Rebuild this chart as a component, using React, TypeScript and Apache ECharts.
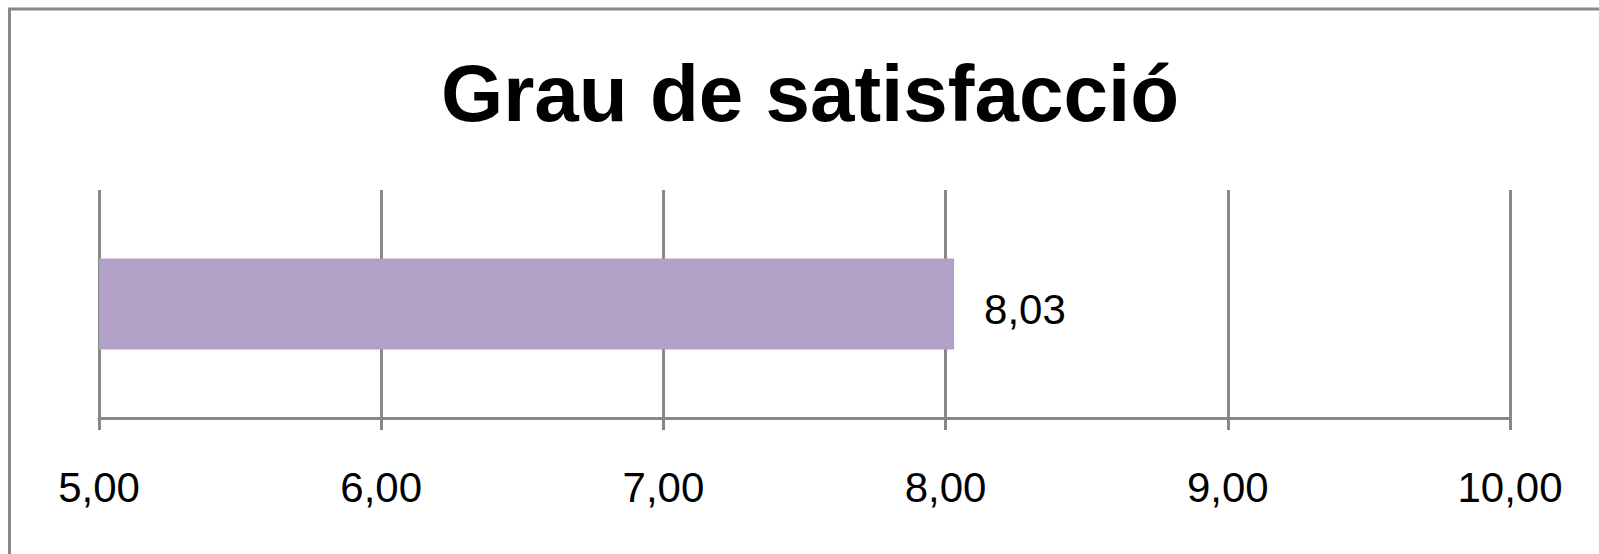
import React, { useEffect, useRef } from "react";
import * as echarts from "echarts";

const categories: string[] = ["Grau de satisfacció"];
const values: number[] = [8.03];
const titleText = "Grau de satisfacció";
const axisMin = 5;
const axisMax = 10;
const axisInterval = 1;

const fmt = (v: number) => v.toFixed(2).replace(".", ",");

export default function App() {
  const ref = useRef<HTMLDivElement>(null);
  useEffect(() => {
    if (!ref.current) return;
    const chart = echarts.init(ref.current, null, { renderer: "svg" });
    const font = '"Liberation Sans", Arial, sans-serif';
    chart.setOption({
      animation: false,
      backgroundColor: "#ffffff",
      title: {
        text: titleText,
        left: 810,
        top: 53,
        padding: 0,
        textAlign: "center",
        textStyle: { fontFamily: font, fontSize: 80, fontWeight: "bold", color: "#000000" },
      },
      graphic: [
        {
          type: "rect",
          silent: true,
          shape: { x: 9.5, y: 9, width: 3000, height: 3000 },
          style: { fill: "none", stroke: "#888888", lineWidth: 3 },
        },
      ],
      grid: { left: 99, right: 89, top: 190, bottom: 136, containLabel: false },
      xAxis: {
        type: "value",
        min: axisMin,
        max: axisMax,
        interval: axisInterval,
        axisLine: { show: true, lineStyle: { color: "#888888", width: 3 } },
        axisTick: { show: true, length: 12, inside: false, lineStyle: { color: "#888888", width: 3 } },
        splitLine: { show: true, lineStyle: { color: "#888888", width: 3 } },
        axisLabel: {
          formatter: (v: number) => fmt(v),
          fontFamily: font,
          fontSize: 42,
          color: "#000000",
          margin: 48,
        },
      },
      yAxis: {
        type: "category",
        data: categories,
        axisLine: { show: false },
        axisTick: { show: false },
        axisLabel: { show: false },
        splitLine: { show: false },
      },
      series: [
        {
          type: "bar",
          data: values,
          barWidth: "40%",
          itemStyle: { color: "#b3a2c7" },
          label: {
            show: true,
            position: "right",
            distance: 30,
            offset: [0, 5],
            formatter: (p: any) => fmt(p.value),
            fontFamily: font,
            fontSize: 42,
            color: "#000000",
          },
        },
      ],
    });
    return () => chart.dispose();
  }, []);
  return (
    <div
      ref={ref}
      style={{ position: "fixed", left: 0, top: 0, width: 1599, height: 554 }}
    />
  );
}
